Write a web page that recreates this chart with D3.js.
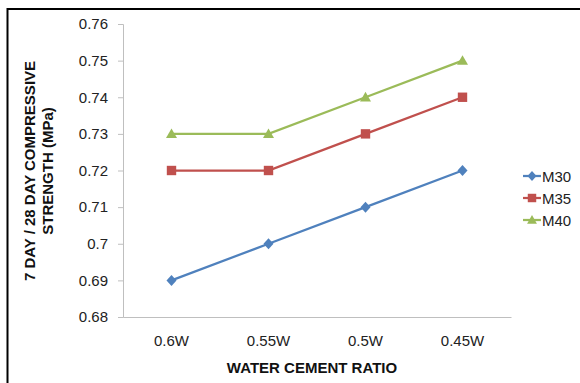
<!DOCTYPE html>
<html><head><meta charset="utf-8">
<script src="https://cdn.jsdelivr.net/npm/d3@7"></script>
<style>body{margin:0;background:#fff}svg{display:block}text{font-family:Arial,"Liberation Sans",sans-serif}</style>
</head><body><svg id="c" width="580" height="383"></svg>
<script>
const categories = ["0.6W","0.55W","0.5W","0.45W"];
const seriesNames = ["M30","M35","M40"];
const m30 = [0.69,0.70,0.71,0.72];
const m35 = [0.72,0.72,0.73,0.74];
const m40 = [0.73,0.73,0.74,0.75];
const yTicks = [0.68,0.69,0.7,0.71,0.72,0.73,0.74,0.75,0.76];
const colors = ["#4F81BD","#C0504D","#9BBB59"];
const series = [m30,m35,m40];

function marker(k, s){
  if(k===0) return `M0,${-s*0.55}L${s*0.5},0L0,${s*0.55}L${-s*0.5},0Z`;
  if(k===1) return `M${-s*0.47},${-s*0.47}h${s*0.94}v${s*0.94}h${-s*0.94}Z`;
  return `M0,${-s*0.55}L${s*0.55},${s*0.42}L${-s*0.55},${s*0.42}Z`;
}

const svg = d3.select("#c");
svg.append("rect").attr("x",7.5).attr("y",9).attr("width",590).attr("height",400)
  .attr("fill","none").attr("stroke","#000").attr("stroke-width",2);

const L=123,R=511,T=24,B=317;
const x = d3.scaleBand().domain(categories).range([L,R]);
const y = d3.scaleLinear().domain([0.68,0.76]).range([B,T]);

const ya = svg.append("g").attr("transform",`translate(${L},0)`)
  .call(d3.axisLeft(y).tickValues(yTicks).tickSize(5).tickPadding(10).tickFormat(d=>String(+d.toFixed(2))));
ya.select(".domain").attr("stroke","#bfbfbf");
ya.selectAll(".tick line").attr("stroke","#bfbfbf");
ya.selectAll("text").attr("font-size",15).attr("fill","#222");

const xa = svg.append("g").attr("transform",`translate(0,${B})`)
  .call(d3.axisBottom(x).tickSize(0).tickPadding(18));
xa.select(".domain").attr("stroke","#bfbfbf");
xa.selectAll("text").attr("font-size",15).attr("fill","#222");

svg.append("text").attr("x",312).attr("y",373).attr("text-anchor","middle")
  .attr("font-size",15).attr("font-weight","bold").attr("fill","#111").text("WATER CEMENT RATIO");
const yt = svg.append("text").attr("transform","translate(35,171) rotate(-90)")
  .attr("text-anchor","middle").attr("font-size",15).attr("font-weight","bold").attr("fill","#111");
yt.append("tspan").attr("x",0).attr("dy",0).text("7 DAY / 28 DAY COMPRESSIVE");
yt.append("tspan").attr("x",0).attr("dy",17.5).text("STRENGTH (MPa)");

const line = d3.line().x((d,i)=>x(categories[i])+x.bandwidth()/2).y(d=>y(d));
series.forEach((s,k)=>{
  svg.append("path").datum(s).attr("d",line).attr("fill","none")
    .attr("stroke",colors[k]).attr("stroke-width",2.25);
  svg.selectAll(null).data(s).enter().append("path")
    .attr("d",marker(k,10))
    .attr("transform",(d,i)=>`translate(${x(categories[i])+x.bandwidth()/2},${y(d)})`)
    .attr("fill",colors[k]);
});

const lg = svg.append("g");
seriesNames.forEach((n,k)=>{
  const yy = 176 + k*22;
  lg.append("line").attr("x1",523).attr("x2",541).attr("y1",yy).attr("y2",yy)
    .attr("stroke",colors[k]).attr("stroke-width",2.25);
  lg.append("path").attr("d",marker(k,9))
    .attr("transform",`translate(532,${yy})`).attr("fill",colors[k]);
  lg.append("text").attr("x",542).attr("y",yy+5.5).attr("font-size",15).attr("fill","#222").text(n);
});
</script></body></html>
